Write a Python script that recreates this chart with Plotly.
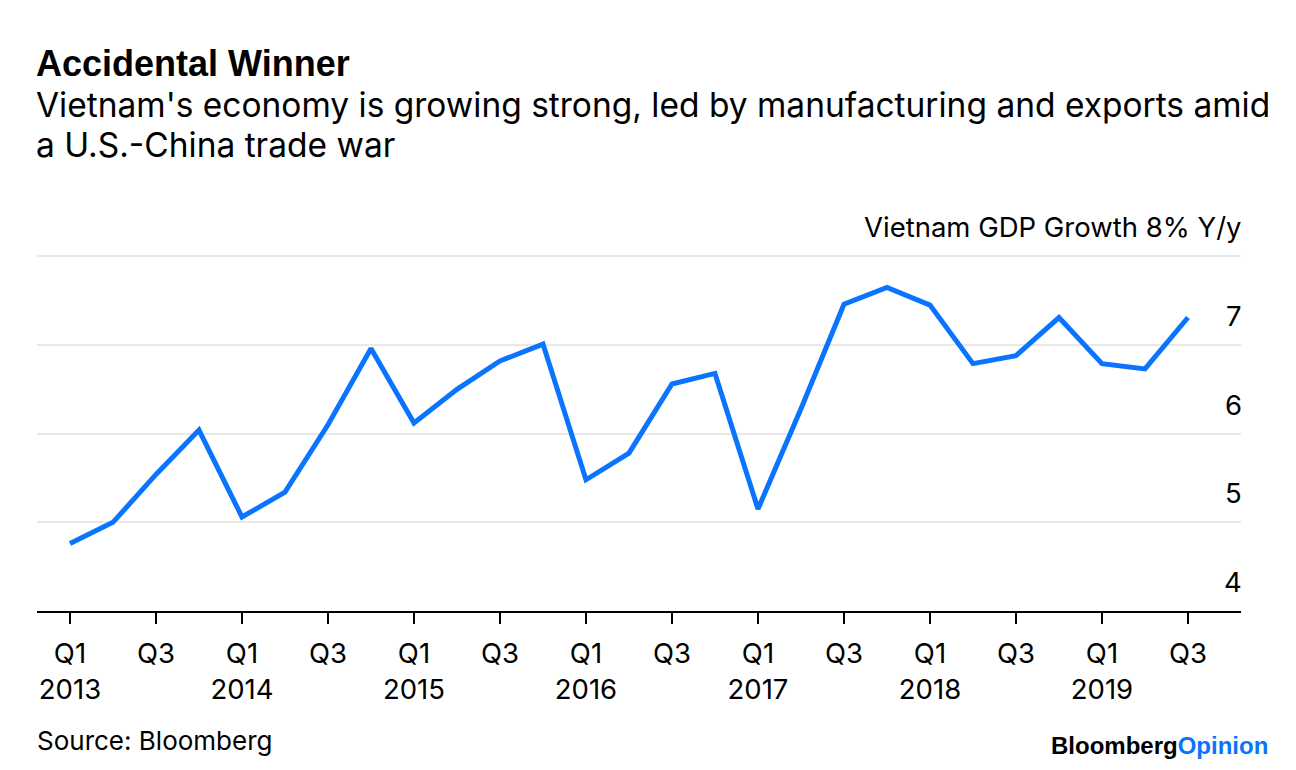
import plotly.graph_objects as go

# ---- data ----
quarters = [
    "Q1 2013", "Q2 2013", "Q3 2013", "Q4 2013",
    "Q1 2014", "Q2 2014", "Q3 2014", "Q4 2014",
    "Q1 2015", "Q2 2015", "Q3 2015", "Q4 2015",
    "Q1 2016", "Q2 2016", "Q3 2016", "Q4 2016",
    "Q1 2017", "Q2 2017", "Q3 2017", "Q4 2017",
    "Q1 2018", "Q2 2018", "Q3 2018", "Q4 2018",
    "Q1 2019", "Q2 2019", "Q3 2019",
]
gdp_growth = [
    4.76, 5.00, 5.54, 6.04,
    5.06, 5.34, 6.10, 6.96,
    6.12, 6.50, 6.82, 7.01,
    5.48, 5.78, 6.56, 6.68,
    5.15, 6.28, 7.46, 7.65,
    7.45, 6.79, 6.88, 7.31,
    6.79, 6.73, 7.31,
]
y_tickvals = [4, 5, 6, 7, 8]
y_ticktext = ["4", "5", "6", "7", "Vietnam GDP Growth 8% Y/y"]

x_idx = list(range(len(quarters)))
x_tickvals = x_idx[::2]
x_ticktext = []
for i in x_tickvals:
    qq, yr = quarters[i].split(" ")
    x_ticktext.append(f"{qq}<br>{yr}" if qq == "Q1" else qq)

FONT = "Inter, Liberation Sans, Arial, sans-serif"
BOLD = "Liberation Sans, Arial, sans-serif"
BLUE = "#0a74ff"

# page layout (the page body adds an 8px offset)
W, H = 1280, 754
L, R, T, B = 29, 47, 204, 151
PLOT_H = H - T - B
PLOT_W = W - L - R
OFF = 8


def py(Y):  # page pixel -> paper y
    return (H - B + OFF - Y) / PLOT_H


def px(X):  # page pixel -> paper x
    return (X - OFF - L) / PLOT_W


fig = go.Figure()
fig.add_trace(go.Scatter(
    x=x_idx, y=gdp_growth, mode="lines",
    line=dict(color=BLUE, width=5),
    text=quarters, hoverinfo="text+y", showlegend=False,
))

annotations = [
    dict(text="<b>Accidental Winner</b>", xref="paper", yref="paper",
         x=px(35), y=py(63), xanchor="left", yanchor="middle",
         showarrow=False, font=dict(family=BOLD, size=36, color="black"), borderpad=0),
    dict(text="Vietnam's economy is growing strong, led by manufacturing and exports amid",
         xref="paper", yref="paper", x=px(35), y=py(105),
         xanchor="left", yanchor="middle", align="left",
         showarrow=False, font=dict(size=33.5, color="black"), borderpad=0),
    dict(text="a U.S.-China trade war",
         xref="paper", yref="paper", x=px(35), y=py(145),
         xanchor="left", yanchor="middle", align="left",
         showarrow=False, font=dict(size=33.5, color="black"), borderpad=0),
    dict(text="Source: Bloomberg", xref="paper", yref="paper",
         x=px(36), y=py(740), xanchor="left", yanchor="middle",
         showarrow=False, font=dict(size=26, color="black"), borderpad=0),
    dict(text="<b>Bloomberg<span style='color:" + BLUE + "'>Opinion</span></b>",
         xref="paper", yref="paper", x=px(1269), y=py(745),
         xanchor="right", yanchor="middle",
         showarrow=False, font=dict(family=BOLD, size=24, color="black"), borderpad=0),
]
for v, t in zip(y_tickvals, y_ticktext):
    annotations.append(dict(
        text=t, xref="paper", yref="y", x=1, y=v, xanchor="right", yanchor="middle",
        xshift=2, yshift=29, showarrow=False, borderpad=0,
        font=dict(size=27.5, color="black"),
    ))

fig.update_layout(
    width=W, height=H,
    margin=dict(l=L, r=R, t=T, b=B, pad=0),
    paper_bgcolor="white", plot_bgcolor="white",
    font=dict(family=FONT, color="black", size=27.5),
    xaxis=dict(
        range=[-0.767, 27.233],
        tickmode="array", tickvals=x_tickvals, ticktext=x_ticktext,
        showgrid=False, zeroline=False,
        showline=True, linecolor="black", linewidth=2,
        ticks="outside", ticklen=11, tickwidth=2, tickcolor="black",
        tickfont=dict(size=27.5, color="black"),
        ticklabelstandoff=6,
    ),
    yaxis=dict(
        range=[4, 8.5], side="right",
        tickmode="array", tickvals=y_tickvals,
        showticklabels=False,
        showgrid=True, gridcolor="#e8e8e8", gridwidth=2,
        zeroline=False, showline=False, ticks="",
    ),
    annotations=annotations,
)

fig.write_html("out.html")
